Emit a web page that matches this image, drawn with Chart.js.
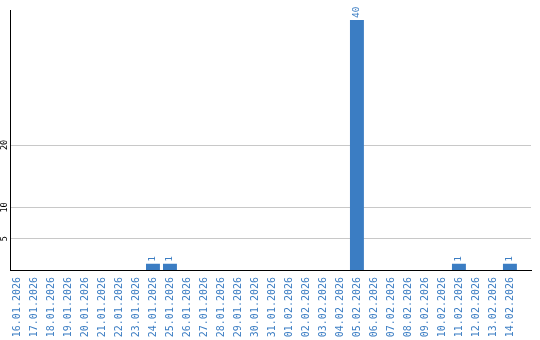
<!DOCTYPE html>
<html lang="en">
<head>
    <meta charset="UTF-8">
    <title>Daily count</title>
    <style>
        body { margin: 0; padding: 0; background: #fff; }
        .wrap { width: 540px; height: 340px; position: relative; }
    </style>
</head>
<body>
<div class="wrap"><canvas id="chart"></canvas></div>
<script src="https://cdn.jsdelivr.net/npm/chart.js"></script>
<script>
    // dates and counts
    const days = ['16.01.2026', '17.01.2026', '18.01.2026', '19.01.2026', '20.01.2026', '21.01.2026',
        '22.01.2026', '23.01.2026', '24.01.2026', '25.01.2026', '26.01.2026', '27.01.2026', '28.01.2026',
        '29.01.2026', '30.01.2026', '31.01.2026', '01.02.2026', '02.02.2026', '03.02.2026', '04.02.2026',
        '05.02.2026', '06.02.2026', '07.02.2026', '08.02.2026', '09.02.2026', '10.02.2026', '11.02.2026',
        '12.02.2026', '13.02.2026', '14.02.2026'];
    const counts = [0, 0, 0, 0, 0, 0, 0, 0, 1, 1, 0, 0, 0, 0, 0, 0, 0, 0, 0, 0,
        40, 0, 0, 0, 0, 0, 1, 0, 0, 1];
    const yTicks = [5, 10, 20];

    const blue = '#3b7dc3';
    const mono = "'DejaVu Sans Mono', monospace";

    // value labels above the bars, rotated
    const valueLabels = {
        id: 'valueLabels',
        afterDatasetsDraw(chart) {
            const ctx = chart.ctx;
            const meta = chart.getDatasetMeta(0);
            ctx.save();
            ctx.fillStyle = blue;
            ctx.font = '9.5px ' + mono;
            ctx.textAlign = 'left';
            ctx.textBaseline = 'middle';
            meta.data.forEach((bar, i) => {
                if (!counts[i]) return;
                ctx.save();
                ctx.translate(bar.x, bar.y - 2);
                ctx.rotate(-Math.PI / 2);
                ctx.fillText(String(counts[i]), 0, 0);
                ctx.restore();
            });
            ctx.restore();
        }
    };

    new Chart(document.getElementById('chart'), {
        type: 'bar',
        data: {
            datasets: [{
                data: counts.map((v, i) => ({ x: i, y: v })),
                backgroundColor: blue,
                barPercentage: 0.82,
                categoryPercentage: 1
            }]
        },
        options: {
            responsive: true,
            maintainAspectRatio: false,
            animation: false,
            layout: { padding: { top: 10, right: 9, left: 0, bottom: 0 } },
            plugins: { legend: { display: false }, tooltip: { enabled: false } },
            scales: {
                x: {
                    type: 'linear',
                    offset: false,
                    // bars start right at the axis, empty strip at the right end
                    min: -0.41,
                    max: 30.24,
                    afterBuildTicks(scale) {
                        scale.ticks = days.map((d, i) => ({ value: i }));
                    },
                    afterFit(scale) { scale.height = 70; },
                    grid: { display: false, drawTicks: false },
                    border: { display: true, color: '#000', width: 1 },
                    ticks: {
                        color: blue,
                        font: { family: mono, size: 10 },
                        minRotation: 90,
                        maxRotation: 90,
                        autoSkip: false,
                        padding: 7,
                        callback: (v) => days[v]
                    }
                },
                y: {
                    min: 0,
                    max: 41.6,
                    afterBuildTicks(scale) {
                        scale.ticks = yTicks.map(v => ({ value: v }));
                    },
                    afterFit(scale) { scale.width = 10; },
                    grid: { color: '#c8c8c8', drawTicks: false },
                    border: { display: true, color: '#000', width: 1 },
                    ticks: {
                        color: '#000',
                        font: { family: mono, size: 8.5 },
                        minRotation: 90,
                        maxRotation: 90,
                        crossAlign: 'center',
                        padding: 0
                    }
                }
            }
        },
        plugins: [valueLabels]
    });
</script>
</body>
</html>
